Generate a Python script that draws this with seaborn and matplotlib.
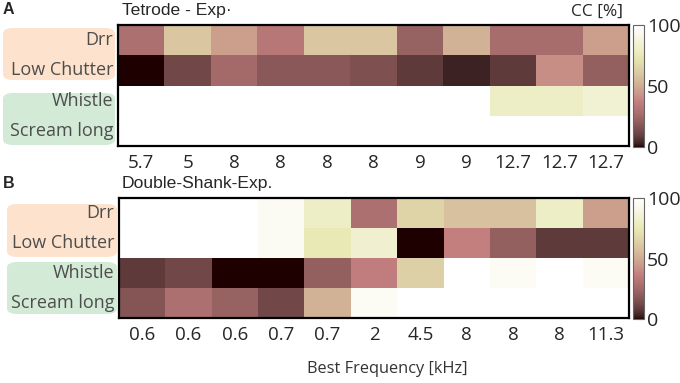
import numpy as np
import pandas as pd
import matplotlib
matplotlib.use('Agg')
import matplotlib.pyplot as plt
import seaborn as sns
from matplotlib.patches import FancyBboxPatch

calls = ['Drr', 'Low Chutter', 'Whistle', 'Scream long']

tetrode_bf = ['5.7', '5', '8', '8', '8', '8', '9', '9', '12.7', '12.7', '12.7']
tetrode_drr = [29, 60, 46, 33, 60, 60, 22, 52, 27, 27, 46]
tetrode_chutter = [0, 12, 26, 18, 18, 15, 8, 3, 8, 41, 21]
tetrode_whistle = [100, 100, 100, 100, 100, 100, 100, 100, 80, 80, 84]
tetrode_scream = [100, 100, 100, 100, 100, 100, 100, 100, 100, 100, 100]

shank_bf = ['0.6', '0.6', '0.6', '0.7', '0.7', '2', '4.5', '8', '8', '8', '11.3']
shank_drr = [100, 100, 100, 95, 80, 29, 65, 58, 58, 80, 46]
shank_chutter = [100, 100, 100, 95, 75, 83, 0, 37, 21, 8, 8]
shank_whistle = [8, 12, 0, 0, 21, 36, 64, 100, 96, 100, 96]
shank_scream = [17, 29, 22, 12, 52, 96, 100, 100, 100, 100, 100]

sns.set_style('white')
plt.rcParams['font.family'] = ['Open Sans', 'DejaVu Sans']

W, H = 680, 383
fig = plt.figure(figsize=(6.8, 3.83), dpi=100)

def fx(px):
    return px / W

def fy(py):
    return 1 - py / H

def panel(rows, bf, top, bot, left, title, show_cc, letter):
    df = pd.DataFrame(rows, index=calls, columns=range(len(bf)))
    ax = fig.add_axes([fx(left), fy(bot), fx(629) - fx(left), fy(top) - fy(bot)])
    cax = fig.add_axes([fx(633), fy(bot + 1), fx(11), fy(top) - fy(bot + 1)])
    sns.heatmap(df, cmap='pink', vmin=0, vmax=100, ax=ax, cbar_ax=cax,
                xticklabels=bf, yticklabels=calls)
    for s in ax.spines.values():
        s.set_visible(True)
        s.set_linewidth(1.6)
        s.set_color('black')
    ax.tick_params(axis='x', direction='in', length=4, color='#999999',
                   top=True, bottom=True, labelsize=13.5, pad=6, rotation=0)
    ax.tick_params(axis='y', direction='in', length=4, color='#999999',
                   left=True, right=True, labelsize=13, labelcolor='#4d4d4d', rotation=0)
    cax.tick_params(direction='in', length=4, color='#999999', labelsize=14, pad=2)
    cax.set_yticks([0, 50, 100])
    cax.set_yticklabels(['0', '50', '100'])
    cbar = ax.collections[0].colorbar
    cbar.outline.set_edgecolor('#666666')
    cbar.outline.set_linewidth(0.8)
    fig.text(fx(122), fy(top - 14), title, ha='left', va='center', fontsize=12.6,
             family=['Liberation Sans', 'DejaVu Sans'])
    if show_cc:
        fig.text(fx(623), fy(top - 13), 'CC [%]', ha='right', va='center',
                 fontsize=12.5)
    fig.text(fx(3), fy(top - 15), letter, fontsize=11.5, fontweight='bold',
             va='center', ha='left', family=['Liberation Sans', 'DejaVu Sans'])
    return ax

ax_a = panel([tetrode_drr, tetrode_chutter, tetrode_whistle, tetrode_scream],
             tetrode_bf, 25, 146, 118, 'Tetrode - Exp\u00b7', True, 'A')
ax_b = panel([shank_drr, shank_chutter, shank_whistle, shank_scream],
             shank_bf, 198, 318, 119, 'Double-Shank-Exp.', False, 'B')

boxes = [(3, 28, 115, 80, '#fde3cd'), (3, 93, 115, 145, '#d2ead6'),
         (7, 204, 117, 257, '#fde3cd'), (7, 262, 117, 314, '#d2ead6')]
for x0, y0, x1, y1, c in boxes:
    p = FancyBboxPatch((fx(x0), fy(y1)), fx(x1) - fx(x0), fy(y0) - fy(y1),
                       boxstyle='round,pad=0,rounding_size=0.015',
                       transform=fig.transFigure, facecolor=c, edgecolor='none',
                       zorder=-1)
    fig.patches.append(p)

fig.text(fx(387), fy(369), 'Best Frequency [kHz]', ha='center', va='center',
         fontsize=11.8, color='#333333')

fig.savefig('out.png', dpi=100)
